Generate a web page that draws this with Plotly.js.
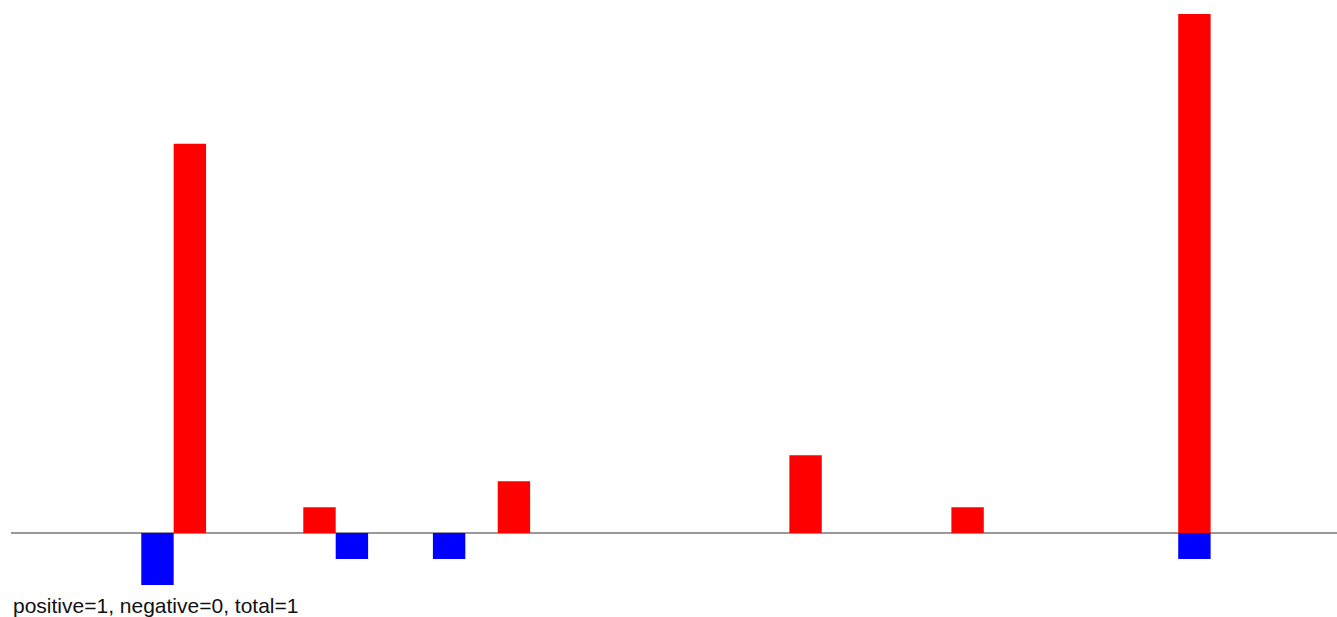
<!DOCTYPE html>
<html>
<head>
<meta charset="utf-8">
<script src="https://cdn.plot.ly/plotly-3.0.1.min.js"></script>
<style>html,body{margin:0;padding:0;background:#fff;}#chart{width:1337px;height:617px;}</style>
</head>
<body>
<div id="chart"></div>
<script>
const positiveX = [5, 9, 15, 24, 29, 36];
const positiveY = [15, 1, 2, 3, 1, 20];
const negativeX = [4, 10, 13, 36];
const negativeY = [-2, -1, -1, -1];
const caption = "positive=1, negative=0, total=1";

const traces = [
  {type: 'bar', x: positiveX, y: positiveY, width: 1, marker: {color: '#ff0000'}, hoverinfo: 'none', name: 'positive'},
  {type: 'bar', x: negativeX, y: negativeY, width: 1, marker: {color: '#0000ff'}, hoverinfo: 'none', name: 'negative'}
];

const layout = {
  width: 1337, height: 617,
  margin: {l: 11, r: 0, t: 14, b: 32},
  paper_bgcolor: '#fff', plot_bgcolor: '#fff',
  showlegend: false,
  barmode: 'relative',
  xaxis: {range: [-0.52, 40.4], showgrid: false, zeroline: false, showticklabels: false, showline: false, ticks: ''},
  yaxis: {range: [-2, 20], showgrid: false, zeroline: true, zerolinecolor: '#999', zerolinewidth: 1.5, showticklabels: false, showline: false, ticks: ''},
  annotations: [{
    text: caption, xref: 'paper', yref: 'paper', x: 0, y: -0.012,
    xanchor: 'left', yanchor: 'top', showarrow: false,
    font: {family: 'Liberation Sans, Arial, sans-serif', size: 21, color: '#111'}
  }]
};

Plotly.newPlot('chart', traces, layout, {staticPlot: true, displayModeBar: false});
</script>
</body>
</html>
